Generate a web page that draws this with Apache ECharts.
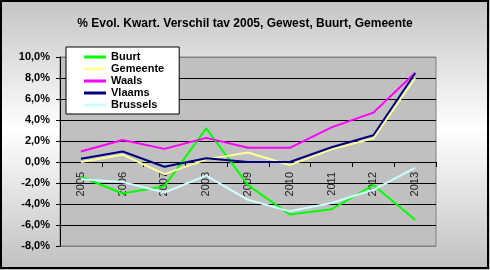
<!DOCTYPE html>
<html>
<head>
<meta charset="utf-8">
<script src="https://cdn.jsdelivr.net/npm/echarts@6/dist/echarts.min.js"></script>
<style>
  html, body { margin: 0; padding: 0; }
  #chart { width: 490px; height: 270px; }
</style>
</head>
<body>
<div id="chart"></div>
<script>
const titleText = '% Evol. Kwart. Verschil tav 2005, Gewest, Buurt, Gemeente';
const years = ['2005', '2006', '2007', '2008', '2009', '2010', '2011', '2012', '2013'];

// values in %
const buurt    = [-1.4, -3.0, -2.3, 3.2, -2.2, -5.0, -4.5, -2.2, -5.5];
const gemeente = [0.0, 0.7, -1.15, 0.25, 0.9, -0.3, 1.2, 2.25, 8.0];
const waals    = [1.0, 2.1, 1.25, 2.3, 1.35, 1.35, 3.3, 4.7, 8.5];
const vlaams   = [0.3, 1.0, -0.45, 0.35, 0.0, 0.0, 1.4, 2.55, 8.45];
const brussels = [-1.65, -1.9, -2.9, -1.3, -3.6, -4.7, -3.9, -2.65, -0.55];

const yMin = -8, yMax = 10, yStep = 2;

const chart = echarts.init(document.getElementById('chart'));

const mkLine = (name, data, color) => ({
  name: name,
  type: 'line',
  data: data,
  showSymbol: false,
  symbol: 'none',
  lineStyle: { color: color, width: 2 },
  itemStyle: { color: color },
});

// plot is 189px high for 18 units -> zero line sits 8 units above the bottom
const zeroOffset = -(189 * (0 - yMin) / (yMax - yMin));

chart.setOption({
  animation: false,
  backgroundColor: new echarts.graphic.LinearGradient(0, 0, 0, 1, [
    { offset: 0, color: '#c4c4c4' },
    { offset: 0.48, color: '#ffffff' },
    { offset: 1, color: '#c0c0c0' },
  ]),
  title: {
    text: titleText,
    left: 'center',
    top: 13,
    textStyle: {
      fontFamily: 'Liberation Sans',
      fontWeight: 'bold',
      fontSize: 12,
      color: '#000',
    },
  },
  legend: {
    orient: 'vertical',
    left: 66,
    top: 47,
    backgroundColor: '#fff',
    borderColor: '#000',
    borderWidth: 1,
    padding: [4, 15, 3, 18],
    itemGap: 0,
    itemWidth: 22,
    itemHeight: 3,
    icon: 'rect',
    textStyle: {
      fontFamily: 'Liberation Sans',
      fontWeight: 'bold',
      fontSize: 11,
      lineHeight: 12,
      color: '#000',
    },
    data: ['Buurt', 'Gemeente', 'Waals', 'Vlaams', 'Brussels'],
  },
  grid: {
    left: 60,
    right: 54,
    top: 57,
    bottom: 24,
    show: true,
    backgroundColor: '#c0c0c0',
    borderColor: '#808080',
    borderWidth: 1,
  },
  xAxis: {
    type: 'category',
    data: years,
    boundaryGap: true,
    position: 'bottom',
    offset: zeroOffset,
    axisLine: { onZero: false, lineStyle: { color: '#000', width: 1 } },
    axisTick: { show: true, length: 5, interval: 0, lineStyle: { color: '#000' } },
    axisLabel: {
      rotate: 90,
      margin: 10,
      interval: 0,
      fontFamily: 'Liberation Sans',
      fontSize: 11,
      color: '#222',
    },
    splitLine: { show: false },
  },
  yAxis: {
    type: 'value',
    min: yMin,
    max: yMax,
    interval: yStep,
    axisLine: { show: true, lineStyle: { color: '#000', width: 1 } },
    axisTick: { show: true, length: 4, lineStyle: { color: '#000' } },
    axisLabel: {
      margin: 10,
      fontFamily: 'Liberation Sans',
      fontWeight: 'bold',
      fontSize: 11,
      color: '#000',
      formatter: v => v.toFixed(1).replace('.', ',') + '%',
    },
    splitLine: {
      show: true,
      lineStyle: {
        color: ['#808080', '#000', '#000', '#000', '#000', '#000', '#000', '#000', '#000', '#808080'],
        width: 1,
      },
    },
  },
  graphic: [
    {
      type: 'rect',
      shape: { x: 1, y: 1, width: 487, height: 267 },
      style: { fill: 'none', stroke: '#000', lineWidth: 2 },
      z: 100,
    },
  ],
  series: [
    mkLine('Buurt', buurt, '#00ff00'),
    mkLine('Gemeente', gemeente, '#ffff99'),
    mkLine('Waals', waals, '#ff00ff'),
    mkLine('Vlaams', vlaams, '#000080'),
    mkLine('Brussels', brussels, '#ccffff'),
  ],
});
</script>
</body>
</html>
